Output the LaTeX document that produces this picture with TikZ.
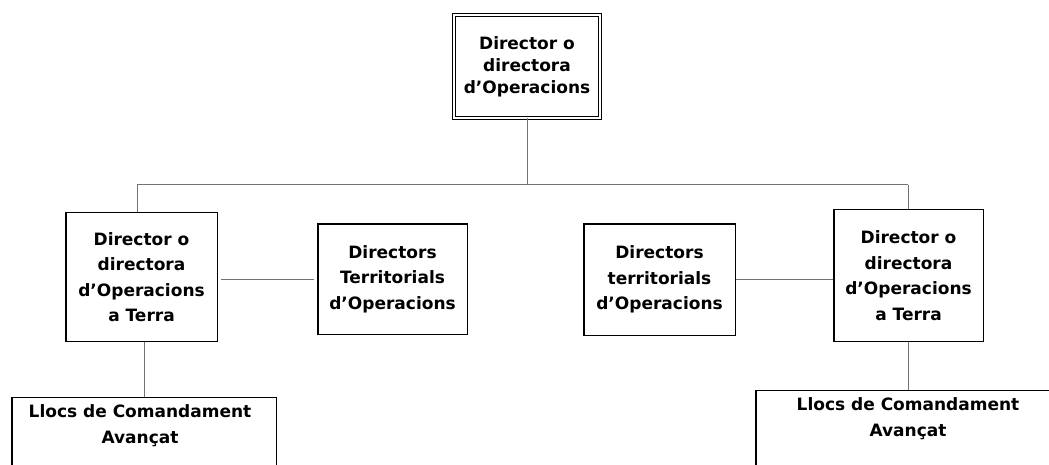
\documentclass[tikz,border=0pt]{standalone}
\usepackage{fontspec}
\setmainfont{DejaVu Sans}
\begin{document}
\begin{tikzpicture}[x=1pt,y=-1pt,
  every node/.style={font=\bfseries\fontsize{17}{25.5}\selectfont, align=center, inner sep=0pt},
  orgbox/.style={draw=black, line width=1.5pt, fill=white},
  topbox/.style={draw=black, line width=1pt, double=white, double distance=2.2pt},
  link/.style={draw=black!55, line width=1pt}]
\useasboundingbox (0,0) rectangle (1049,465);
\clip (0,0) rectangle (1049,465);
\fill[white] (0,0) rectangle (1049,465);
% nodes
\node[topbox, minimum width=146pt, minimum height=103pt, font=\bfseries\fontsize{17}{22}\selectfont] (top) at (527,66.5) {Director o\\directora\\d’Operacions};
\node[orgbox, minimum width=151.5pt, minimum height=128.5pt] (doL) at (141.5,277) {Director o\\directora\\d’Operacions\\a Terra};
\node[orgbox, minimum width=149.5pt, minimum height=110.5pt] (terL) at (392.5,279) {Directors\\Territorials\\d’Operacions};
\node[orgbox, minimum width=151.5pt, minimum height=111.5pt] (terR) at (659.5,279.5) {Directors\\territorials\\d’Operacions};
\node[orgbox, minimum width=149.5pt, minimum height=131.5pt] (doR) at (908.5,275.5) {Director o\\directora\\d’Operacions\\a Terra};
\node[orgbox, minimum width=264.5pt, minimum height=100pt, anchor=north] (llL) at (144,396.75) {};
\node[orgbox, minimum width=304.5pt, minimum height=100pt, anchor=north] (llR) at (908,389.75) {};
\node (llLt) at ([xshift=-4pt,yshift=-29pt]llL.north) {Llocs de Comandament\\Avançat};
\node (llRt) at ([yshift=-29pt]llR.north) {Llocs de Comandament\\Avançat};
% connectors
\coordinate (bm) at (527,185);
\coordinate (bl) at (137,185);
\coordinate (br) at (908,185);
\path[link] (top.south) -- (bm);
\path[link] (bl) -- (br);
\path[link] (bl) -- (bl |- doL.north);
\path[link] (br) -- (br |- doR.north);
\path[link, shorten <=3pt, shorten >=3pt] (doL.east |- terL.west) -- (terL.west);
\path[link] (terR.east) -- (terR.east -| doR.west);
\path[link] (doL.south -| llL.north) -- (llL.north);
\path[link] (doR.south -| llR.north) -- (llR.north);
\end{tikzpicture}
\end{document}
